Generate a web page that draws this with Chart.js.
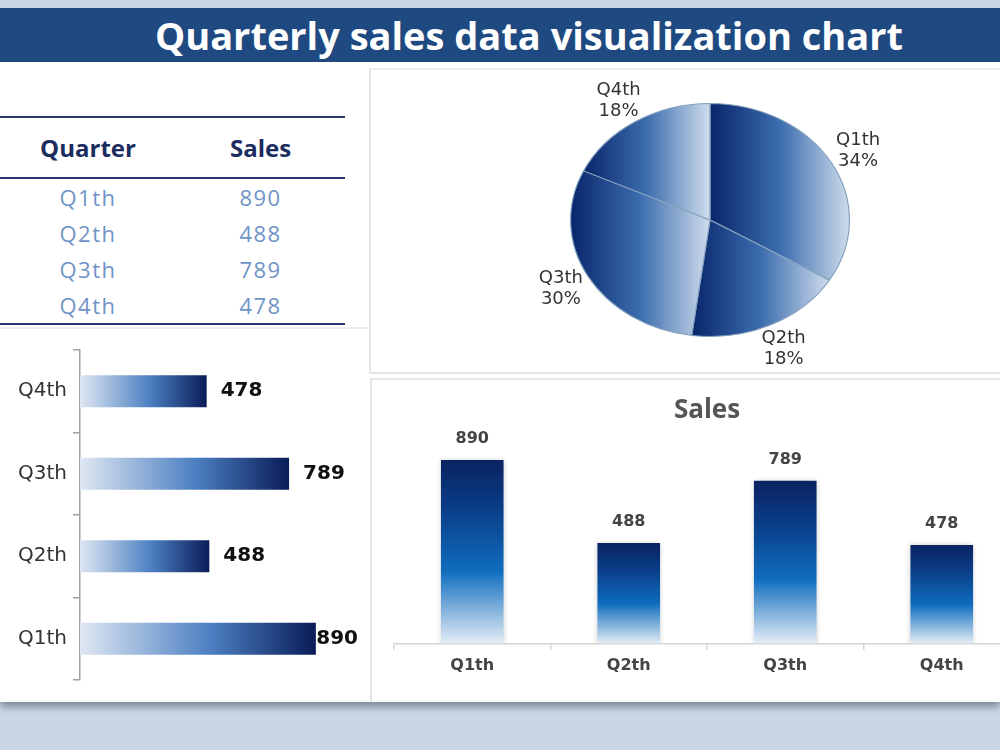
<!DOCTYPE html>
<html>
<head>
<meta charset="utf-8">
<script src="https://cdn.jsdelivr.net/npm/chart.js@4.4.1/dist/chart.umd.min.js"></script>
<style>
  html, body { margin: 0; padding: 0; }
  body { width: 1000px; height: 750px; overflow: hidden; position: relative; background: #c9d6e6; font-family: "Open Sans", sans-serif; }
  #titlebar { position: absolute; left: 0; top: 8px; width: 1000px; height: 54px; box-sizing: border-box; padding-left: 58px;
    background: #1f4a81; color: #fff; font-weight: 700; font-size: 38px; line-height: 54px; text-align: center; }
  #sheet { position: absolute; left: 0; top: 62px; width: 1000px; height: 640px; background: #fff; box-shadow: 0 5px 7px rgba(40, 50, 70, 0.45); }
  #tbl { position: absolute; left: 0; top: 116px; width: 345px; border-collapse: collapse; }
  #tbl th { height: 59px; padding: 0; font-size: 24px; font-weight: 700; color: #1b2c5e;
    border-top: 2.5px solid #28376b; border-bottom: 2.5px solid #28376b; }
  #tbl td { height: 36px; padding: 0; font-size: 22px; color: #6f94c7; text-align: center; letter-spacing: 1.5px; }
  #tbl tr:last-child td { border-bottom: 2.5px solid #28376b; }
  .panel { position: absolute; box-sizing: border-box; }
  #pieBox { left: 369px; top: 68px; width: 631px; height: 306px; border-left: 2px solid #e6e6e6; border-top: 2px solid #ececec; border-bottom: 2px solid #e4e4e4; }
  #colBox { left: 370px; top: 378px; width: 630px; height: 324px; border-left: 2px solid #e6e6e6; border-top: 2px solid #e6e6e6; }
  #tblLine { left: 0; top: 327px; width: 368px; height: 2px; background: #ececec; }
  canvas { position: absolute; }
</style>
</head>
<body>
<div id="titlebar"></div>
<div id="sheet"></div>
<div class="panel" id="tblLine"></div>
<div class="panel" id="pieBox"></div>
<div class="panel" id="colBox"></div>
<table id="tbl"><thead><tr></tr></thead><tbody></tbody></table>
<canvas id="pie" width="630" height="305" style="left:370px; top:68px;"></canvas>
<canvas id="hbar" width="368" height="370" style="left:0; top:332px;"></canvas>
<canvas id="col" width="660" height="323" style="left:372px; top:379px;"></canvas>
<script>
const pageTitle = 'Quarterly sales data visualization chart';
const tableHeaders = ['Quarter', 'Sales'];
const quarters = ['Q1th', 'Q2th', 'Q3th', 'Q4th'];
const sales = [890, 488, 789, 478];
const barTitle = 'Sales';

const pieYScale = 0.836;

document.getElementById('titlebar').textContent = pageTitle;

// table
const headRow = document.querySelector('#tbl thead tr');
tableHeaders.forEach((h, i) => {
  const th = document.createElement('th');
  th.textContent = h;
  th.style.width = i === 0 ? '176px' : '169px';
  headRow.appendChild(th);
});
const body = document.querySelector('#tbl tbody');
quarters.forEach((q, i) => {
  const tr = document.createElement('tr');
  [q, sales[i]].forEach(v => {
    const td = document.createElement('td');
    td.textContent = v;
    tr.appendChild(td);
  });
  body.appendChild(tr);
});

// fills
function pieFill(c) {
  const chart = c.chart, area = chart.chartArea;
  if (!area || c.dataIndex === undefined) return '#3a6cae';
  const cx = (area.left + area.right) / 2;
  const r = Math.min(area.width, area.height) / 2;
  const vals = chart.data.datasets[0].data;
  const total = vals.reduce((a, b) => a + b, 0);
  let before = 0;
  for (let i = 0; i < c.dataIndex; i++) before += vals[i];
  const a0 = -Math.PI / 2 + before / total * 2 * Math.PI;
  const a1 = a0 + vals[c.dataIndex] / total * 2 * Math.PI;
  let minX = cx, maxX = cx;
  for (let k = 0; k <= 40; k++) {
    const x = cx + r * Math.cos(a0 + (a1 - a0) * k / 40);
    minX = Math.min(minX, x);
    maxX = Math.max(maxX, x);
  }
  const g = chart.ctx.createLinearGradient(minX, 0, maxX, 0);
  g.addColorStop(0, '#08256a');
  g.addColorStop(0.5, '#3b6dae');
  g.addColorStop(1, '#d0ddec');
  return g;
}

function hbarFill(c) {
  const chart = c.chart;
  if (!chart.chartArea || c.dataIndex === undefined) return '#4a7fc1';
  const x0 = chart.scales.x.getPixelForValue(0);
  const x1 = chart.scales.x.getPixelForValue(c.raw);
  const g = chart.ctx.createLinearGradient(x0, 0, x1, 0);
  g.addColorStop(0, '#dfe7f2');
  g.addColorStop(0.55, '#4c80c2');
  g.addColorStop(1, '#0a1c58');
  return g;
}

function colFill(c) {
  const chart = c.chart;
  if (!chart.chartArea || c.dataIndex === undefined) return '#0e6dbd';
  const y0 = chart.scales.y.getPixelForValue(c.raw);
  const y1 = chart.scales.y.getPixelForValue(0);
  const g = chart.ctx.createLinearGradient(0, y0, 0, y1);
  g.addColorStop(0, '#0a2260');
  g.addColorStop(0.25, '#0a3c86');
  g.addColorStop(0.6, '#0e6cbd');
  g.addColorStop(1, '#e6eef7');
  return g;
}

// plugins
const pieSquash = {
  id: 'pieSquash',
  beforeDatasetsDraw(chart) {
    const a = chart.getDatasetMeta(0).data[0];
    const ctx = chart.ctx;
    ctx.save();
    ctx.translate(a.x, a.y);
    ctx.scale(1, pieYScale);
    ctx.translate(-a.x, -a.y);
  },
  afterDatasetsDraw(chart) {
    chart.ctx.restore();
  }
};

const pieLabels = {
  id: 'pieLabels',
  afterDraw(chart) {
    const ctx = chart.ctx;
    const vals = chart.data.datasets[0].data;
    const total = vals.reduce((a, b) => a + b, 0);
    ctx.save();
    ctx.font = '18px "DejaVu Sans"';
    ctx.fillStyle = '#333';
    ctx.textAlign = 'center';
    ctx.textBaseline = 'middle';
    chart.getDatasetMeta(0).data.forEach((arc, i) => {
      const mid = (arc.startAngle + arc.endAngle) / 2;
      const R = arc.outerRadius * 1.22;
      const x = arc.x + Math.cos(mid) * R;
      const y = arc.y + Math.sin(mid) * R * pieYScale;
      ctx.fillText(chart.data.labels[i], x, y - 10);
      ctx.fillText(Math.round(vals[i] / total * 100) + '%', x, y + 11);
    });
    ctx.restore();
  }
};

const hbarLabels = {
  id: 'hbarLabels',
  afterDatasetsDraw(chart) {
    const ctx = chart.ctx;
    ctx.save();
    ctx.font = 'bold 20px "DejaVu Sans"';
    ctx.fillStyle = '#111';
    ctx.textBaseline = 'middle';
    chart.getDatasetMeta(0).data.forEach((bar, i) => {
      const txt = String(chart.data.datasets[0].data[i]);
      const w = ctx.measureText(txt).width;
      ctx.fillText(txt, Math.min(bar.x + 14, chart.width - w - 10), bar.y);
    });
    ctx.restore();
  }
};

const colLabels = {
  id: 'colLabels',
  afterDatasetsDraw(chart) {
    const ctx = chart.ctx;
    ctx.save();
    ctx.font = 'bold 16px "DejaVu Sans"';
    ctx.fillStyle = '#444';
    ctx.textAlign = 'center';
    ctx.textBaseline = 'middle';
    chart.getDatasetMeta(0).data.forEach((bar, i) => {
      ctx.fillText(String(chart.data.datasets[0].data[i]), bar.x, bar.y - 21);
    });
    ctx.restore();
  }
};

const barShadow = {
  id: 'barShadow',
  beforeDatasetsDraw(chart) {
    const ctx = chart.ctx;
    ctx.save();
    ctx.shadowColor = 'rgba(0,0,0,0.22)';
    ctx.shadowBlur = 5;
  },
  afterDatasetsDraw(chart) {
    chart.ctx.restore();
  }
};

// pie
new Chart(document.getElementById('pie'), {
  type: 'pie',
  data: {
    labels: quarters,
    datasets: [{ data: sales, backgroundColor: pieFill, borderColor: '#86a2bf', borderWidth: 1.2 }]
  },
  options: {
    responsive: false,
    animation: false,
    layout: { padding: { left: 200, right: 150, top: 12, bottom: 13 } },
    plugins: { legend: { display: false }, tooltip: { enabled: false } }
  },
  plugins: [pieSquash, pieLabels]
});

// horizontal bars
new Chart(document.getElementById('hbar'), {
  type: 'bar',
  data: {
    labels: quarters,
    datasets: [{ data: sales, backgroundColor: hbarFill, barPercentage: 0.39, categoryPercentage: 1 }]
  },
  options: {
    indexAxis: 'y',
    responsive: false,
    animation: false,
    layout: { padding: { left: 0, right: 23, top: 18, bottom: 22 } },
    scales: {
      x: { display: false, min: 0, max: 1000 },
      y: {
        reverse: true,
        afterFit: s => { s.width = 80; },
        grid: { drawOnChartArea: false, tickLength: 7, color: '#a3a3a3', lineWidth: 1.5 },
        border: { color: '#a3a3a3', width: 1.5 },
        ticks: { padding: 6, color: '#333', font: { family: 'DejaVu Sans', size: 20 } }
      }
    },
    plugins: { legend: { display: false }, tooltip: { enabled: false } }
  },
  plugins: [hbarLabels]
});

// columns
new Chart(document.getElementById('col'), {
  type: 'bar',
  data: {
    labels: quarters,
    datasets: [{ data: sales, backgroundColor: colFill, barPercentage: 0.4, categoryPercentage: 1 }]
  },
  options: {
    responsive: false,
    animation: false,
    layout: { padding: { left: 22, right: 12, top: 0, bottom: 21 } },
    scales: {
      x: {
        grid: { drawOnChartArea: false, tickLength: 6, color: '#d4d4d4', lineWidth: 1.5 },
        border: { color: '#d4d4d4', width: 1.5 },
        ticks: { padding: 6, color: '#444', font: { family: 'DejaVu Sans', size: 16, weight: 'bold' } }
      },
      y: { display: false, min: 0, max: 1000 }
    },
    plugins: {
      legend: { display: false },
      tooltip: { enabled: false },
      title: {
        display: true, text: barTitle, color: '#555',
        font: { family: 'Open Sans', size: 26, weight: 'bold' },
        padding: { top: 16, bottom: 11 }
      }
    }
  },
  plugins: [barShadow, colLabels]
});
</script>
</body>
</html>
